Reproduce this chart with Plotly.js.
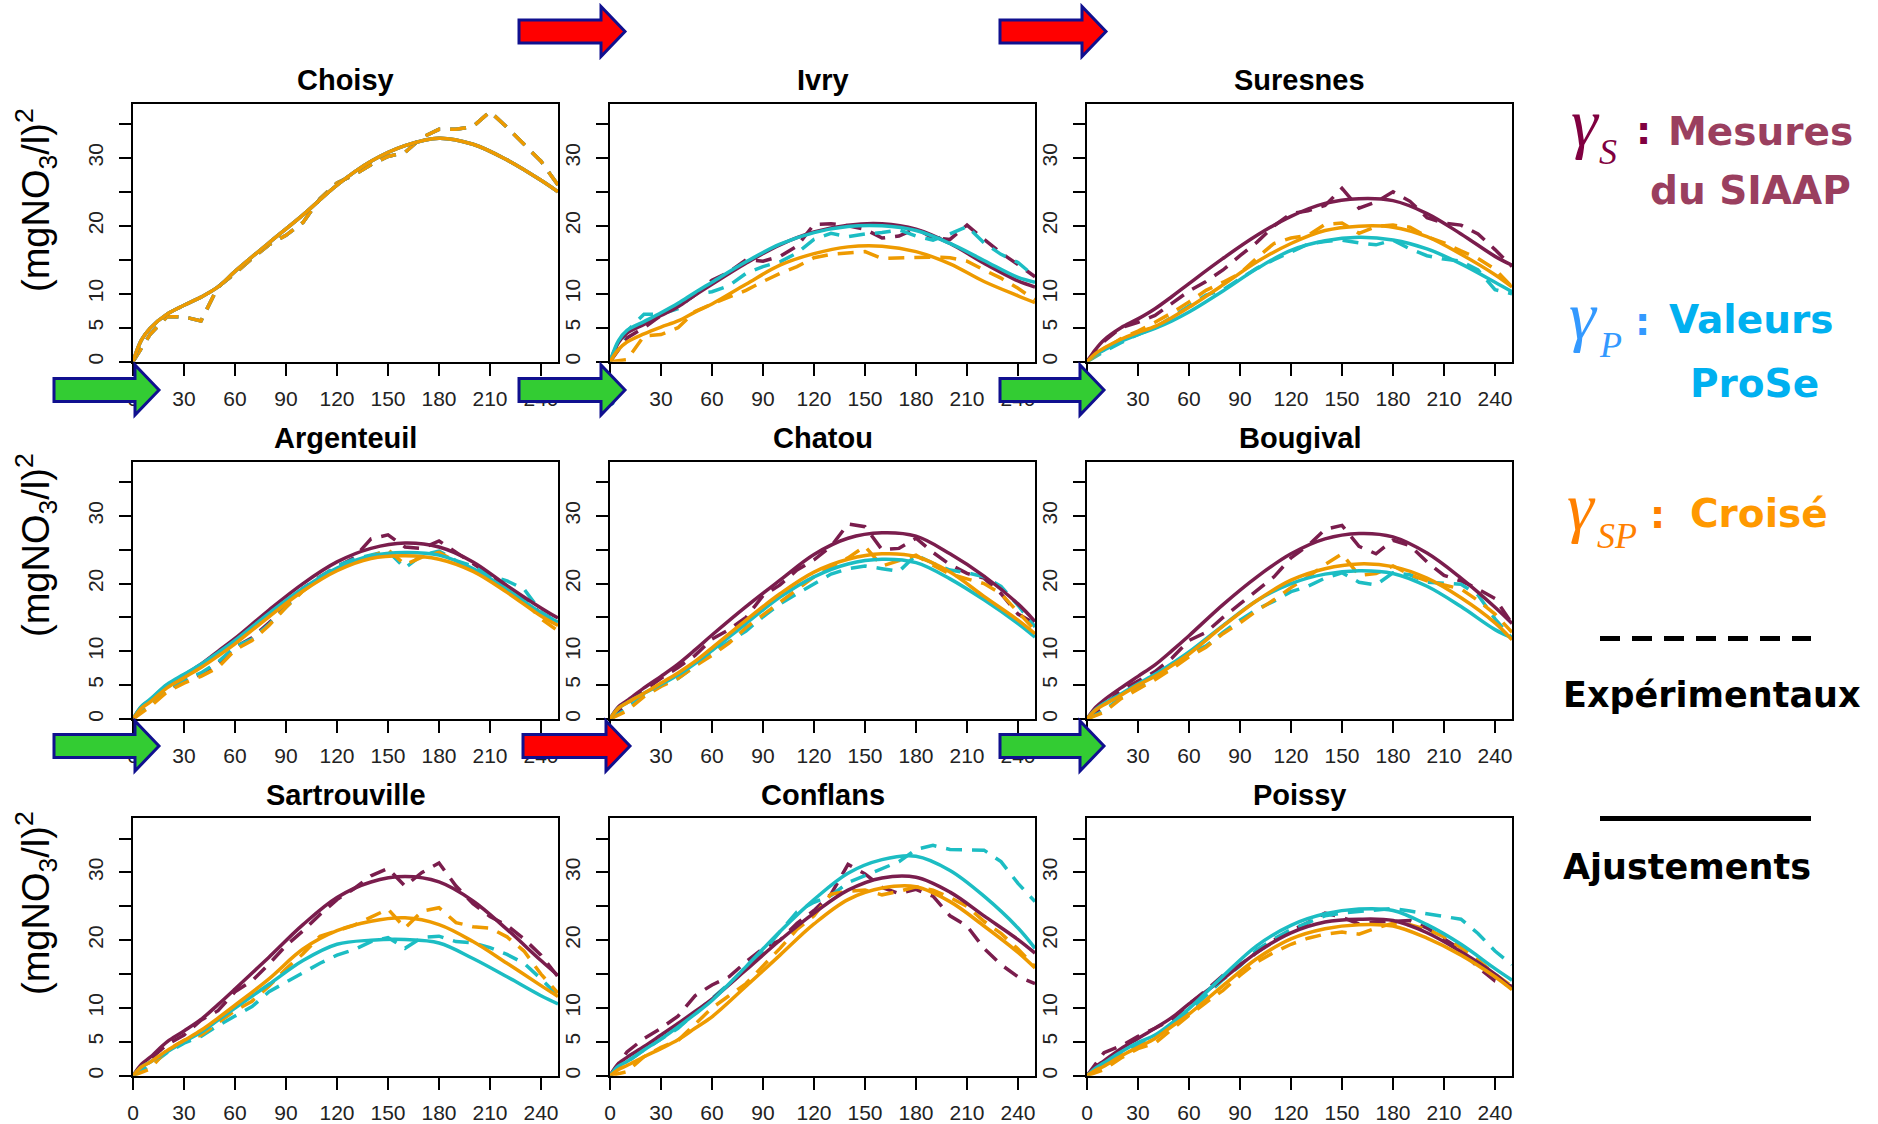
<!DOCTYPE html>
<html><head><meta charset="utf-8">
<script src="https://cdn.plot.ly/plotly-3.0.1.min.js"></script>
<style>html,body{margin:0;padding:0;background:#fff;}#chart{width:1878px;height:1124px;}</style>
</head><body><div id="chart"></div>
<script>
// ---------------- DATA ----------------
const lagDays = [0,10,20,30,40,50,60,70,80,90,100,110,120,130,140,150,160,170,180,190,200,210,220,230,240,250];
const fitDays = [0,5,10,20,30,40,50,60,80,100,120,140,160,180,200,220,240,250];
const stations = ['Choisy','Ivry','Suresnes','Argenteuil','Chatou','Bougival','Sartrouville','Conflans','Poissy'];
const xTickVals = [0,30,60,90,120,150,180,210,240];
const xTickText = ['0','30','60','90','120','150','180','210','240'];
const yTickVals = [0,5,10,20,30];
const yTickText = ['0','5','10','20','30'];
const yMinorTickVals = [15,25,35];
const yLabel = '(mgNO<sub>3</sub>/l)<sup>2</sup>';

// Choisy
const choisyExpS  = [0,4.0,6.6,6.6,6.0,11.0,13.0,15.2,17.2,18.6,20.5,24.0,26.3,27.5,29.0,30.2,30.8,33.0,34.2,34.2,34.6,36.8,34.5,32.0,29.5,26.0];
const choisyExpP  = [0,4.0,6.6,6.6,6.0,11.0,13.0,15.2,17.2,18.6,20.5,24.0,26.3,27.5,29.0,30.2,30.8,33.0,34.2,34.2,34.6,36.8,34.5,32.0,29.5,26.0];
const choisyExpSP = [0,4.0,6.6,6.6,6.0,11.0,13.0,15.2,17.2,18.6,20.5,24.0,26.3,27.5,29.0,30.2,30.8,33.0,34.2,34.2,34.6,36.8,34.5,32.0,29.5,26.0];
const choisyFitS  = [0,3.2,4.9,7.0,8.3,9.5,11.0,13.3,17.5,21.6,26.0,29.5,31.8,32.9,32.0,29.7,26.7,25.0];
const choisyFitP  = [0,3.2,4.9,7.0,8.3,9.5,11.0,13.3,17.5,21.6,26.0,29.5,31.8,32.9,32.0,29.7,26.7,25.0];
const choisyFitSP = [0,3.2,4.9,7.0,8.3,9.5,11.0,13.3,17.5,21.6,26.0,29.5,31.8,32.9,32.0,29.7,26.7,25.0];
// Ivry
const ivryExpS  = [0,3.5,5.0,6.8,8.2,9.8,12.0,13.2,15.0,14.8,15.5,17.0,20.2,20.3,20.0,19.5,18.2,18.5,19.6,18.2,18.0,20.1,18.0,16.0,14.3,12.5];
const ivryExpP  = [0,4.5,7.0,7.0,7.8,10.0,10.3,11.2,13.0,14.0,14.7,16.0,18.0,18.9,18.4,18.8,19.0,19.4,18.5,17.9,18.8,19.9,17.5,15.8,14.6,12.5];
const ivryExpSP = [0,0.3,3.8,4.0,5.0,7.4,8.5,9.5,10.5,11.8,13.0,14.0,15.3,15.8,16.0,16.2,15.2,15.3,15.4,15.4,15.3,14.8,13.5,12.3,10.8,9.1];
const ivryFitS  = [0,2.8,4.2,5.5,6.8,8.1,9.8,11.4,14.5,17.2,19.1,20.1,20.3,19.5,17.4,14.5,11.9,11.0];
const ivryFitP  = [0,3.1,4.6,5.9,7.2,8.6,10.2,11.7,14.7,17.3,19.0,19.9,20.0,19.3,17.4,14.9,12.4,11.7];
const ivryFitSP = [0,1.8,2.9,4.1,5.1,6.0,7.3,8.5,11.4,14.2,15.9,16.9,17.0,16.2,14.4,11.8,9.7,8.7];
// Suresnes
const suresnesExpS  = [0,3.0,5.0,5.8,6.8,8.6,10.4,11.8,13.5,15.6,17.6,20.0,21.8,22.2,23.0,25.5,22.6,23.5,25.0,23.6,21.2,20.4,20.1,18.8,16.5,14.0];
const suresnesExpP  = [0,1.5,2.8,4.0,5.0,6.6,8.3,9.8,10.6,12.2,13.8,15.0,16.2,17.3,17.7,17.9,17.5,17.2,17.9,16.6,15.6,15.1,14.8,13.5,10.6,10.0];
const suresnesExpSP = [0,1.8,3.4,4.5,5.8,7.2,8.8,10.5,11.7,13.0,15.3,17.4,18.2,18.6,20.2,20.4,18.9,19.9,20.1,19.8,18.4,17.5,16.3,15.2,13.6,11.0];
const suresnesFitS  = [0,1.8,3.2,5.0,6.3,7.8,9.6,11.5,15.2,18.6,21.4,23.3,24.0,23.7,21.8,18.8,15.5,14.2];
const suresnesFitP  = [0,1.0,1.7,3.0,4.0,4.9,6.0,7.3,10.4,13.7,16.4,17.8,18.3,17.9,16.6,14.4,11.7,10.3];
const suresnesFitSP = [0,1.2,2.0,3.3,4.3,5.2,6.5,8.0,11.3,14.7,17.4,19.3,19.95,19.8,18.4,15.8,12.8,11.0];
// Argenteuil
const argenteuilExpS  = [0,2.5,4.3,5.6,6.6,8.2,10.6,12.0,14.2,16.6,19.3,21.0,22.5,23.8,26.6,27.2,25.4,25.2,26.3,24.6,23.0,21.2,19.6,17.7,15.6,14.5];
const argenteuilExpP  = [0,2.3,4.4,5.8,6.8,8.4,10.7,11.8,14.0,16.5,19.0,21.0,22.6,23.6,24.2,24.8,22.3,24.2,24.8,23.4,22.6,21.2,20.4,19.2,15.8,14.2];
const argenteuilExpSP = [0,1.8,4.0,5.3,6.3,7.6,10.2,11.6,13.8,16.5,18.9,20.8,22.2,23.2,24.0,25.0,22.8,23.9,24.6,23.3,22.0,20.6,19.5,17.5,14.8,13.0];
const argenteuilFitS  = [0,1.8,2.8,5.0,6.5,8.1,10.0,11.9,16.1,20.0,23.2,25.2,26.0,25.4,23.2,19.7,16.4,14.9];
const argenteuilFitP  = [0,1.9,2.9,5.1,6.6,8.1,9.8,11.6,15.6,19.3,22.3,24.1,24.6,24.2,22.2,19.1,15.7,14.3];
const argenteuilFitSP = [0,1.6,2.5,4.6,6.1,7.6,9.3,11.1,15.1,18.9,21.9,23.7,24.1,23.6,21.8,18.7,15.2,13.8];
// Chatou
const chatouExpS  = [0,2.2,4.2,6.0,7.6,9.4,11.8,13.2,15.0,18.2,19.8,22.0,23.5,25.5,28.8,28.4,25.0,25.2,26.7,24.6,22.8,21.5,20.8,18.5,15.5,14.1];
const chatouExpP  = [0,1.5,3.6,5.0,6.0,7.8,9.8,11.4,13.0,15.1,17.0,18.5,20.0,21.4,22.2,22.6,22.2,21.8,24.2,23.0,22.0,21.6,21.0,19.6,16.8,13.6];
const chatouExpSP = [0,1.2,3.3,4.8,6.0,7.8,9.4,11.2,13.5,15.4,17.3,19.2,21.0,22.5,23.8,25.5,22.6,23.4,24.2,22.7,21.4,20.7,20.0,18.5,15.8,13.1];
const chatouFitS  = [0,1.8,2.7,4.6,6.3,8.1,10.2,12.4,16.6,20.5,24.3,26.7,27.5,27.0,24.4,21.1,17.0,14.4];
const chatouFitP  = [0,1.6,2.4,3.8,5.1,6.5,8.2,10.1,14.1,18.0,21.0,22.9,23.6,23.1,20.7,17.6,14.1,12.1];
const chatouFitSP = [0,1.6,2.4,3.8,5.3,6.8,8.5,10.5,14.6,18.5,21.7,23.6,24.4,24.0,21.7,18.1,14.6,12.6];
// Bougival
const bougivalExpS  = [0,2.0,4.2,5.6,7.0,9.0,11.6,12.8,15.0,17.0,19.0,21.0,23.8,25.6,28.0,28.6,25.5,24.4,26.4,25.6,23.2,21.2,20.4,19.2,17.8,14.1];
const bougivalExpP  = [0,1.2,3.2,4.6,6.2,7.6,9.6,10.8,12.8,14.6,16.2,17.4,18.8,19.6,20.8,21.6,20.2,19.8,21.6,21.3,20.2,20.0,19.9,18.3,14.8,11.9];
const bougivalExpSP = [0,1.0,3.0,4.4,5.8,7.4,9.2,10.6,12.6,14.2,16.0,17.6,19.4,21.0,22.8,24.4,21.2,21.5,22.6,21.3,20.4,19.8,19.2,17.5,15.5,12.8];
const bougivalFitS  = [0,1.7,2.8,4.6,6.3,8.0,10.1,12.3,16.9,21.0,24.4,26.6,27.4,26.9,24.5,20.8,16.5,14.1];
const bougivalFitP  = [0,1.4,2.3,3.7,5.2,6.6,8.2,9.9,13.8,17.5,20.0,21.4,21.9,21.5,19.6,16.6,13.2,12.0];
const bougivalFitSP = [0,1.3,2.1,3.5,5.0,6.3,7.9,9.6,13.7,17.5,20.5,22.2,22.9,22.5,20.8,17.9,14.2,11.7];
// Sartrouville
const sartrouvilleExpS  = [0,2.4,4.6,6.0,8.2,9.6,12.4,14.0,16.5,19.2,21.4,23.8,26.0,27.6,29.5,30.6,28.0,30.0,31.4,28.0,25.4,23.5,22.2,20.2,17.8,14.6];
const sartrouvilleExpP  = [0,1.5,3.4,4.8,5.8,7.4,8.8,10.2,12.4,13.8,15.2,16.6,17.8,18.6,19.8,20.4,18.8,20.4,20.6,19.8,19.6,18.9,17.9,16.6,14.3,11.8];
const sartrouvilleExpSP = [0,1.0,3.8,5.2,6.0,7.8,9.6,11.0,13.2,15.8,18.0,20.6,21.4,22.2,23.4,24.6,21.8,24.3,24.8,22.6,22.0,21.8,20.5,18.4,15.0,12.2];
const sartrouvilleFitS  = [0,1.7,2.7,5.0,6.6,8.3,10.5,12.8,17.5,22.3,26.3,28.6,29.4,28.6,25.8,21.6,17.0,14.8];
const sartrouvilleFitP  = [0,1.3,2.0,3.5,5.0,6.4,8.2,10.0,13.5,17.0,19.4,20.0,20.1,19.6,17.3,14.6,11.8,10.6];
const sartrouvilleFitSP = [0,1.3,2.0,3.7,5.2,6.7,8.5,10.4,14.3,18.7,21.4,22.8,23.3,22.3,19.8,16.6,13.3,11.7];
// Conflans
const conflansExpS  = [0,3.5,5.5,7.0,8.8,11.8,13.4,14.6,16.8,18.8,20.0,22.5,24.4,26.8,31.2,29.8,27.8,26.9,27.5,26.5,23.6,22.1,18.8,16.4,14.6,13.6];
const conflansExpP  = [0,2.0,3.8,5.4,7.0,9.2,11.4,13.6,15.8,18.3,21.3,24.2,25.6,26.6,28.5,29.5,30.6,31.6,33.4,34.0,33.4,33.3,33.3,31.6,28.4,25.7];
const conflansExpSP = [0,0.6,2.8,4.2,5.2,7.6,10.0,11.8,13.6,16.2,18.8,21.6,23.6,26.8,27.2,27.4,26.7,27.2,27.9,27.4,26.3,25.0,22.8,21.0,18.7,16.1];
const conflansFitS  = [0,1.8,2.7,4.3,6.0,7.7,9.5,11.3,15.6,20.0,24.0,27.4,29.2,29.3,27.1,23.6,20.1,18.1];
const conflansFitP  = [0,1.4,2.1,3.8,5.4,7.2,9.1,11.1,16.1,21.3,26.0,29.9,31.9,32.4,30.3,26.5,21.8,18.8];
const conflansFitSP = [0,0.9,1.5,2.8,4.0,5.3,7.0,8.7,13.2,17.8,22.4,26.0,27.7,27.9,25.7,22.1,18.2,15.9];
// Poissy
const poissyExpS  = [0,3.4,4.4,5.8,7.0,8.3,10.6,12.6,14.8,16.4,18.2,20.0,21.4,22.6,24.0,23.4,22.4,22.7,22.8,22.9,21.8,20.2,18.6,16.0,14.0,13.2];
const poissyExpP  = [0,1.6,3.2,4.6,5.8,7.6,9.6,11.8,14.2,16.2,18.6,20.2,21.6,22.6,23.6,24.0,24.2,24.4,24.7,24.3,23.9,23.5,23.1,21.0,18.4,16.4];
const poissyExpSP = [0,0.9,2.6,4.0,4.8,6.9,8.9,10.8,12.6,14.8,16.8,18.2,19.4,20.3,20.9,21.2,20.9,21.8,22.5,22.3,21.6,20.5,18.9,17.1,15.0,13.2];
const poissyFitS  = [0,1.3,2.2,4.0,5.5,7.0,8.6,10.6,14.3,18.2,21.1,22.7,23.1,22.9,21.1,18.3,15.0,12.9];
const poissyFitP  = [0,1.1,1.9,3.5,4.9,6.0,7.8,9.9,14.7,19.2,22.2,23.9,24.6,24.4,22.3,19.4,15.8,14.1];
const poissyFitSP = [0,0.8,1.4,2.9,4.2,5.5,7.3,9.1,13.3,17.3,20.2,21.7,22.3,22.1,20.3,17.8,14.6,12.7];

const expData = [
  [choisyExpS, choisyExpP, choisyExpSP],
  [ivryExpS, ivryExpP, ivryExpSP],
  [suresnesExpS, suresnesExpP, suresnesExpSP],
  [argenteuilExpS, argenteuilExpP, argenteuilExpSP],
  [chatouExpS, chatouExpP, chatouExpSP],
  [bougivalExpS, bougivalExpP, bougivalExpSP],
  [sartrouvilleExpS, sartrouvilleExpP, sartrouvilleExpSP],
  [conflansExpS, conflansExpP, conflansExpSP],
  [poissyExpS, poissyExpP, poissyExpSP]
];
const fitData = [
  [choisyFitS, choisyFitP, choisyFitSP],
  [ivryFitS, ivryFitP, ivryFitSP],
  [suresnesFitS, suresnesFitP, suresnesFitSP],
  [argenteuilFitS, argenteuilFitP, argenteuilFitSP],
  [chatouFitS, chatouFitP, chatouFitSP],
  [bougivalFitS, bougivalFitP, bougivalFitSP],
  [sartrouvilleFitS, sartrouvilleFitP, sartrouvilleFitSP],
  [conflansFitS, conflansFitP, conflansFitSP],
  [poissyFitS, poissyFitP, poissyFitSP]
];

// ---------------- STYLE / LAYOUT ----------------
const W = 1878, H = 1124;
const seriesColors = ['#7A1D4D', '#1CBDC3', '#EE9A00'];
const colPx = [[133,558],[610,1035],[1087,1512]];
const rowPx = [[103.5,361.7],[461.7,719],[818.3,1075.7]];
const titleYPx = [80, 438, 795];
const yLabelYPx = [200, 545, 903];
const px = x => x / W;
const py = y => 1 - y / H;
const tickFont = {family: 'Liberation Sans, Arial, sans-serif', size: 21, color: '#222'};

const traces = [];
const layout = {
  width: W, height: H, margin: {l:0, r:0, t:0, b:0},
  paper_bgcolor: '#fff', plot_bgcolor: '#fff', showlegend: false,
  annotations: [], shapes: []
};

stations.forEach((name, k) => {
  const s = k === 0 ? '' : String(k + 1);
  const col = k % 3, row = Math.floor(k / 3);
  for (let j = 0; j < 3; j++) {
    traces.push({x: lagDays, y: expData[k][j], xaxis: 'x' + s, yaxis: 'y' + s, mode: 'lines',
      line: {color: seriesColors[j], width: 3.5, dash: '16px,10px'}, hoverinfo: 'skip'});
  }
  for (let j = 0; j < 3; j++) {
    traces.push({x: fitDays, y: fitData[k][j], xaxis: 'x' + s, yaxis: 'y' + s, mode: 'lines',
      line: {color: seriesColors[j], width: 3.5, shape: 'spline', smoothing: 1}, hoverinfo: 'skip'});
  }
  layout['xaxis' + s] = {
    domain: [px(colPx[col][0]), px(colPx[col][1])], anchor: 'y' + s, range: [0, 250],
    tickmode: 'array', tickvals: xTickVals, ticktext: xTickText,
    ticks: 'outside', ticklen: 12, tickwidth: 2, tickcolor: '#000', ticklabelstandoff: 5,
    showline: true, linewidth: 2, linecolor: '#000', mirror: true,
    showgrid: false, zeroline: false, tickfont: tickFont, fixedrange: true
  };
  layout['yaxis' + s] = {
    domain: [py(rowPx[row][1]), py(rowPx[row][0])], anchor: 'x' + s, range: [0, 38],
    tickmode: 'array', tickvals: yTickVals, ticktext: yTickText, tickangle: -90,
    ticks: 'outside', ticklen: 12, tickwidth: 2, tickcolor: '#000', ticklabelstandoff: 8,
    minor: {tickmode: 'array', tickvals: yMinorTickVals, ticks: 'outside', ticklen: 12, tickwidth: 2, tickcolor: '#000', showgrid: false},
    showline: true, linewidth: 2, linecolor: '#000', mirror: true,
    showgrid: false, zeroline: false, tickfont: tickFont, fixedrange: true
  };
  layout.annotations.push({
    text: '<b>' + name + '</b>', xref: 'paper', yref: 'paper',
    x: px((colPx[col][0] + colPx[col][1]) / 2), y: py(titleYPx[row]),
    xanchor: 'center', yanchor: 'middle', showarrow: false,
    font: {family: 'Liberation Sans, Arial, sans-serif', size: 29, color: '#000'}
  });
});

yLabelYPx.forEach(yy => {
  layout.annotations.push({
    text: yLabel, xref: 'paper', yref: 'paper', x: px(36), y: py(yy),
    xanchor: 'center', yanchor: 'middle', textangle: -90, showarrow: false,
    font: {family: 'Liberation Sans, Arial, sans-serif', size: 38, color: '#000'}
  });
});

// right-hand key
function note(text, x, y, size, color, family, anchor) {
  layout.annotations.push({text: text, xref: 'paper', yref: 'paper', x: px(x), y: py(y),
    xanchor: anchor || 'left', yanchor: 'middle', showarrow: false,
    font: {family: family, size: size, color: color}});
}
const serif = 'Liberation Serif, Times New Roman, serif';
const sans = 'DejaVu Sans, Verdana, sans-serif';
note('<i>γ</i>', 1585, 123, 68, '#800040', serif, 'center');
note('<i>S</i>', 1597, 152, 36, '#800040', serif);
note('<b>:</b>', 1643, 131, 38, '#800040', sans, 'center');
note('<b>Mesures</b>', 1666, 131, 39, '#9A3F5F', sans);
note('<b>du SIAAP</b>', 1648, 191, 39, '#9A3F5F', sans);

note('<i>γ</i>', 1583, 316, 68, '#3399FF', serif, 'center');
note('<i>P</i>', 1597, 345, 36, '#3399FF', serif);
note('<b>:</b>', 1642, 322, 38, '#3399FF', sans, 'center');
note('<b>Valeurs</b>', 1667, 320, 39, '#00B0F0', sans);
note('<b>ProSe</b>', 1688, 383, 39, '#00B0F0', sans);

note('<i>γ</i>', 1581, 507, 68, '#FF8000', serif, 'center');
note('<i>SP</i>', 1595, 536, 36, '#FF8000', serif);
note('<b>:</b>', 1657, 515, 38, '#FF8000', sans, 'center');
note('<b>Croisé</b>', 1688, 513, 39, '#FF9900', sans);

note('<b>Expérimentaux</b>', 1561, 695, 35, '#000', sans);
note('<b>Ajustements</b>', 1561, 867, 35, '#000', sans);

layout.shapes.push({type: 'line', xref: 'paper', yref: 'paper', x0: px(1600), x1: px(1811), y0: py(638.5), y1: py(638.5),
  line: {color: '#000', width: 5, dash: '20px,12px'}});
layout.shapes.push({type: 'line', xref: 'paper', yref: 'paper', x0: px(1600), x1: px(1811), y0: py(818.5), y1: py(818.5),
  line: {color: '#000', width: 5}});

// block arrows (decoration)
function arrow(x0, x1, yc, fill) {
  const xb = x1 - 24, hs = 11.5, hh = 25;
  const pts = [[x0, yc - hs], [xb, yc - hs], [xb, yc - hh], [x1, yc], [xb, yc + hh], [xb, yc + hs], [x0, yc + hs]];
  const path = 'M' + pts.map(p => px(p[0]).toFixed(5) + ',' + py(p[1]).toFixed(5)).join(' L') + ' Z';
  layout.shapes.push({type: 'path', xref: 'paper', yref: 'paper', path: path, fillcolor: fill,
    line: {color: '#10108F', width: 3}, layer: 'above'});
}
const RED = '#FF0000', GREEN = '#33CC33';
arrow(519, 625, 31.5, RED);
arrow(1000, 1106, 31.5, RED);
arrow(54, 159, 390, GREEN);
arrow(519, 625, 390, GREEN);
arrow(1000, 1104, 390, GREEN);
arrow(54, 159, 746, GREEN);
arrow(523, 630, 746, RED);
arrow(1000, 1104, 746, GREEN);

Plotly.newPlot('chart', traces, layout, {displayModeBar: false, staticPlot: true});
</script>
</body></html>
